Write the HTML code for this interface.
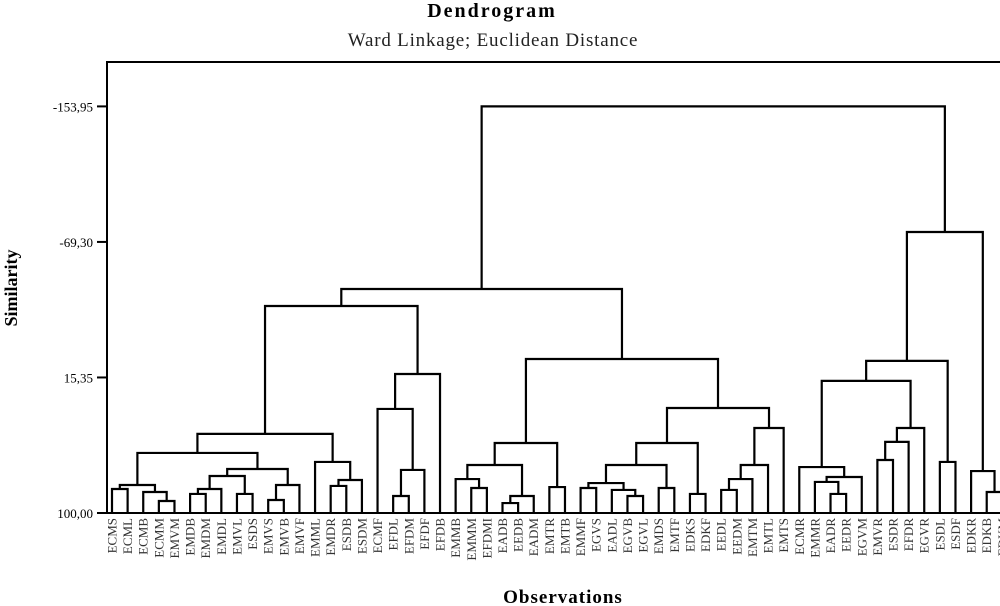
<!DOCTYPE html>
<html><head><meta charset="utf-8"><style>
html,body{margin:0;padding:0;background:#fff;}
svg{display:block;font-family:"Liberation Serif",serif;}
</style></head><body>
<svg id="chart" width="1000" height="606" viewBox="0 0 1000 606">
<text x="492" y="17" text-anchor="middle" font-size="20" font-weight="bold" letter-spacing="2">Dendrogram</text>
<text x="493" y="46" text-anchor="middle" font-size="19" fill="#222" letter-spacing="0.8">Ward Linkage; Euclidean Distance</text>
<text transform="translate(17,288) rotate(-90)" text-anchor="middle" font-size="18" font-weight="bold">Similarity</text>
<text x="563" y="603" text-anchor="middle" font-size="19" font-weight="bold" letter-spacing="1">Observations</text>
<path d="M107,513 V62 H1000" fill="none" stroke="#000" stroke-width="2"/>
<g id="yaxis"></g>
<g id="links"></g>
<g id="labels"></g>
</svg>
<script>
const leaves = ["ECMS","ECML","ECMB","ECMM","EMVM","EMDB","EMDM","EMDL","EMVL","ESDS","EMVS","EMVB","EMVF","EMML","EMDR","ESDB","ESDM","ECMF","EFDL","EFDM","EFDF","EFDB","EMMB","EMMM","EFDMI","EADB","EEDB","EADM","EMTR","EMTB","EMMF","EGVS","EADL","EGVB","EGVL","EMDS","EMTF","EDKS","EDKF","EEDL","EEDM","EMTM","EMTL","EMTS","ECMR","EMMR","EADR","EEDR","EGVM","EMVR","ESDR","EFDR","EGVR","ESDL","ESDF","EDKR","EDKB","EDKM"];
const tickValues = [100.00, 15.35, -69.30, -153.95];
const tickLabels = ["100,00","15,35","-69,30","-153,95"];
// merges: [childA, childB, similarity]; "L#" leaf, "M#" earlier merge
const mergeA = ["L0","L3","L2","M0","L5","M4","L8","M5","L10","M8","M7","M3","L14","M12","L13","M11","L18","M16","L17","M18","M15","L23","L22","L25","M23","M22","L28","M25","L30","L33","L32","M28","L35","M31","L37","M33","L39","M36","M37","M38","M35","M27","M20","L46","L45","M44","L44","L49","M47","M48","M46","L53","M50","L56","L55","M52","M42"];
const mergeB = ["L1","L4","M1","M2","L6","L7","L9","M6","L11","L12","M9","M10","L15","L16","M13","M14","L19","L20","M17","L21","M19","L24","M21","L26","L27","M24","L29","M26","L31","L34","M29","M30","L36","M32","L38","M34","L40","L41","L42","L43","M39","M40","M41","L47","M43","L48","M45","L50","L51","L52","M49","L54","M51","L57","M53","M54","M55"];
const mergeSim = [85.0,92.5,86.9,82.5,88.1,85.0,88.1,76.9,91.9,82.5,72.5,62.5,83.1,79.4,68.1,50.6,89.4,73.1,35.0,13.2,-29.3,84.4,78.8,93.8,89.4,70.0,83.8,56.3,84.4,89.4,85.6,81.3,84.4,70.0,88.1,56.3,85.6,78.8,70.0,46.9,34.4,3.8,-39.9,88.1,80.6,77.5,71.3,66.9,55.6,46.9,17.5,68.1,5.0,86.9,73.8,-75.5,-153.95];

const NS="http://www.w3.org/2000/svg";
const x0=112, step=15.62;
function xLeaf(i){return x0+i*step;}
function yScale(s){return 513-(100-s)*(406.6/253.95);}
const yaxis=document.getElementById('yaxis');
tickValues.forEach((v,i)=>{
  const y=yScale(v);
  const ln=document.createElementNS(NS,'line');
  
  
  ln.setAttribute('x1',97);ln.setAttribute('x2',107);ln.setAttribute('y1',y);ln.setAttribute('y2',y);
  ln.setAttribute('stroke','#000');ln.setAttribute('stroke-width','2');
  yaxis.appendChild(ln);
  const t=document.createElementNS(NS,'text');
  
  
  t.setAttribute('x',93);t.setAttribute('y',y+5);t.setAttribute('text-anchor','end');t.setAttribute('font-size','13');
  t.textContent=tickLabels[i];
  yaxis.appendChild(t);
});
const links=document.getElementById('links');
const bl=document.createElementNS(NS,'line');


bl.setAttribute('x1',107);bl.setAttribute('x2',1000);bl.setAttribute('y1',513);bl.setAttribute('y2',513);
bl.setAttribute('stroke','#000');bl.setAttribute('stroke-width','2');
links.appendChild(bl);
const pos={};
leaves.forEach((n,i)=>{pos['L'+i]={x:xLeaf(i),y:yScale(100)};});
mergeSim.forEach((s,i)=>{
  const a=pos[mergeA[i]], b=pos[mergeB[i]], y=yScale(s);
  const p=document.createElementNS(NS,'path');
  
  
  p.setAttribute('d',`M${a.x},${a.y} V${y} H${b.x} V${b.y}`);
  p.setAttribute('fill','none');p.setAttribute('stroke','#000');p.setAttribute('stroke-width','2.2');
  links.appendChild(p);
  pos['M'+i]={x:(a.x+b.x)/2,y:y};
});
const labels=document.getElementById('labels');
leaves.forEach((n,i)=>{
  const t=document.createElementNS(NS,'text');
  
  
  const x=xLeaf(i)+4.5;
  t.setAttribute('transform',`translate(${x},518) rotate(-90)`);
  t.setAttribute('text-anchor','end');t.setAttribute('font-size','13');t.setAttribute('fill','#333');
  t.textContent=n;
  labels.appendChild(t);
});
</script>
</body></html>
